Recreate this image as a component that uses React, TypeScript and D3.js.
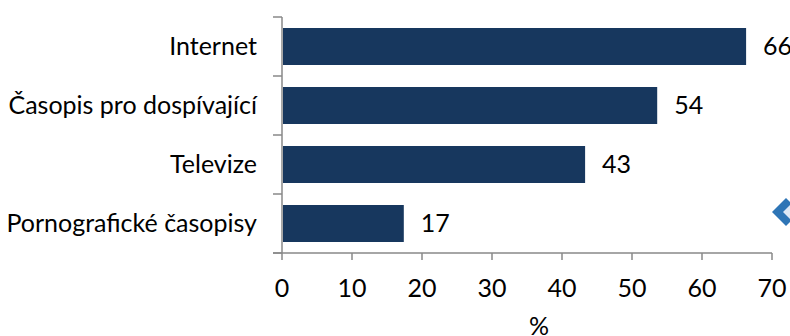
import React from "react";
import * as d3 from "d3";

const categories = ["Internet", "Časopis pro dospívající", "Televize", "Pornografické časopisy"];
const values = [66.3, 53.6, 43.3, 17.4];
const valueLabels = ["66", "54", "43", "17"];
const xTicks = [0, 10, 20, 30, 40, 50, 60, 70];
const axisTitle = "%";

const W = 790;
const H = 336;
const FONT = "Lato, 'Open Sans', sans-serif";
const FS = 25;

export default function App() {
  const x = d3.scaleLinear().domain([0, 70]).range([282, 772]);
  const y = d3.scaleBand<string>().domain(categories).range([17, 253]).paddingInner(0.373).paddingOuter(0.373 / 2);
  const step = y.step();
  const axisColor = "#898989";
  return (
    <svg width={W} height={H} style={{ position: "absolute", left: 0, top: 0 }} fontFamily={FONT}>
      <rect x={0} y={0} width={W} height={H} fill="#fff" />
      {categories.map((c, i) => (
        <g key={c}>
          <rect x={x(0) + 1} y={y(c)!} width={x(values[i]) - x(0) - 1} height={y.bandwidth()} fill="#17375E" />
          <text x={x(values[i]) + 17} y={y(c)! + y.bandwidth() / 2} dy="0.35em" fontSize={FS} fill="#000">{valueLabels[i]}</text>
          <text x={257} y={y(c)! + y.bandwidth() / 2} dy="0.35em" fontSize={FS} textAnchor="end" fill="#000">{c}</text>
        </g>
      ))}
      {/* y axis */}
      <line x1={x(0)} x2={x(0)} y1={17} y2={253} stroke={axisColor} strokeWidth={1.5} />
      {d3.range(categories.length + 1).map((i) => (
        <line key={i} x1={273} x2={x(0)} y1={17 + i * step} y2={17 + i * step} stroke={axisColor} strokeWidth={1.5} />
      ))}
      {/* x axis */}
      <line x1={273} x2={x(70)} y1={253} y2={253} stroke={axisColor} strokeWidth={1.5} />
      {xTicks.map((t) => (
        <g key={t}>
          <line x1={x(t)} x2={x(t)} y1={253} y2={260} stroke={axisColor} strokeWidth={1.5} />
          <text x={x(t)} y={288} dy="0.35em" textAnchor="middle" fontSize={FS} fill="#000">{t}</text>
        </g>
      ))}
      <text x={539} y={326} dy="0.35em" textAnchor="middle" fontSize={FS} fill="#000">{axisTitle}</text>
      {/* decorative chevron at right edge */}
      <polygon points="772,212 786,198 800,212 786,226" fill="#2E75B6" />
      <polygon points="783,212 790,205 797,212 790,219" fill="#DDE8F5" />
    </svg>
  );
}
